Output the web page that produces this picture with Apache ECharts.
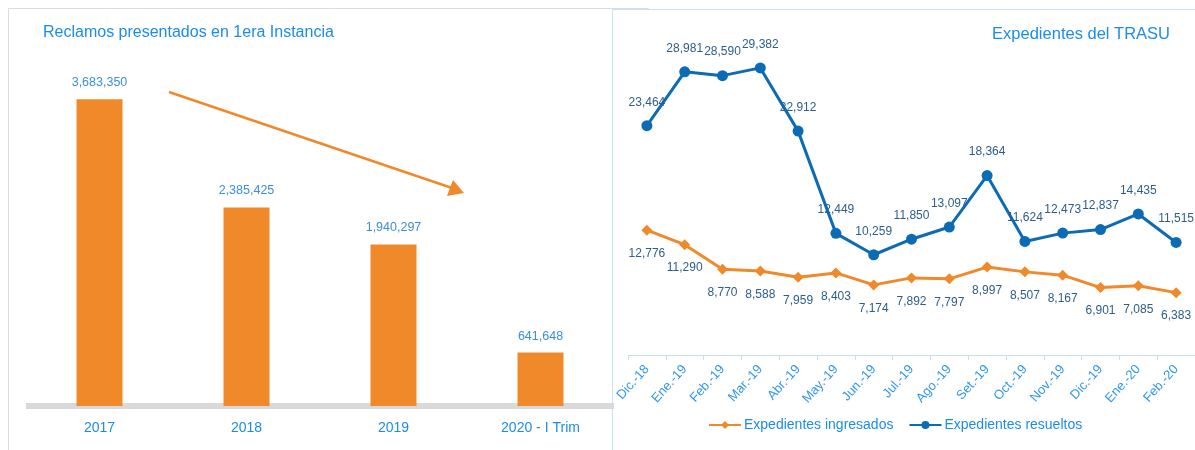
<!DOCTYPE html>
<html>
<head>
<meta charset="utf-8">
<script src="https://cdn.jsdelivr.net/npm/echarts@6/dist/echarts.min.js"></script>
<style>
  html, body { margin: 0; padding: 0; background: #fff; }
  #chart { width: 1195px; height: 450px; }
</style>
</head>
<body>
<div id="chart"></div>
<script>
// left panel: reclamos por año
const years = ['2017', '2018', '2019', '2020 - I Trim'];
const reclamos = [3683350, 2385425, 1940297, 641648];

// right panel: expedientes TRASU
const months = ['Dic.-18', 'Ene.-19', 'Feb.-19', 'Mar.-19', 'Abr.-19', 'May.-19', 'Jun.-19',
  'Jul.-19', 'Ago.-19', 'Set.-19', 'Oct.-19', 'Nov.-19', 'Dic.-19', 'Ene.-20', 'Feb.-20'];
const ingresados = [12776, 11290, 8770, 8588, 7959, 8403, 7174, 7892, 7797, 8997, 8507, 8167, 6901, 7085, 6383];
const resueltos = [23464, 28981, 28590, 29382, 22912, 12449, 10259, 11850, 13097, 18364, 11624, 12473, 12837, 14435, 11515];

const ORANGE = '#f0892a';
const BLUE = '#0b6bb5';
const TITLE_BLUE = '#1a8cf0';
const LABEL_BLUE = '#2d5d8c';
const FONT = '"Liberation Sans", Arial, sans-serif';

const fmt = v => v.toLocaleString('en-US');

const chart = echarts.init(document.getElementById('chart'), null, { renderer: 'canvas' });

chart.setOption({
  animation: false,
  textStyle: { fontFamily: FONT },
  title: [
    {
      text: 'Reclamos presentados en 1era Instancia',
      left: 43, top: 25, padding: 0,
      textStyle: { color: TITLE_BLUE, fontSize: 16, fontWeight: 'normal', fontFamily: FONT }
    },
    {
      text: 'Expedientes del TRASU',
      right: 25, top: 26, padding: 0,
      textStyle: { color: TITLE_BLUE, fontSize: 16.5, fontWeight: 'normal', fontFamily: FONT }
    }
  ],
  legend: {
    data: ['Expedientes ingresados', 'Expedientes resueltos'],
    left: 708, top: 418, padding: 0,
    itemWidth: 32, itemHeight: 10, itemGap: 15,
    textStyle: { color: TITLE_BLUE, fontSize: 14, fontFamily: FONT, padding: [0, 0, 0, -2] }
  },
  grid: [
    { left: 26, width: 588, top: 73, bottom: 44 },
    { left: 628, width: 568, top: 13, bottom: 95 }
  ],
  xAxis: [
    {
      type: 'category', gridIndex: 0, data: years, offset: 3,
      axisLine: { lineStyle: { color: '#d9d9d9', width: 6, cap: 'butt' } },
      axisTick: { show: false },
      axisLabel: { color: TITLE_BLUE, fontSize: 14, margin: 12 }
    },
    {
      type: 'category', gridIndex: 1, data: months,
      axisLine: { lineStyle: { color: '#c5def2', width: 1 } },
      axisTick: { show: true, length: 5, lineStyle: { color: '#c5def2' } },
      axisLabel: { color: '#2f96f0', fontSize: 13, rotate: 48, margin: 12, interval: 0 }
    }
  ],
  yAxis: [
    { type: 'value', gridIndex: 0, min: 0, max: 4000000, show: false },
    { type: 'value', gridIndex: 1, min: 0, max: 35000, show: false }
  ],
  series: [
    {
      type: 'bar', xAxisIndex: 0, yAxisIndex: 0,
      data: reclamos, barWidth: 46,
      itemStyle: { color: ORANGE },
      label: {
        show: true, position: 'top', distance: 10,
        color: '#3a8fdc', fontSize: 12.5,
        formatter: p => fmt(p.value)
      }
    },
    {
      name: 'Expedientes ingresados',
      type: 'line', xAxisIndex: 1, yAxisIndex: 1,
      data: ingresados,
      symbol: 'diamond', symbolSize: 11,
      lineStyle: { color: ORANGE, width: 3 },
      itemStyle: { color: ORANGE },
      label: {
        show: true, position: 'bottom', distance: 12,
        color: LABEL_BLUE, fontSize: 12,
        formatter: p => fmt(p.value)
      }
    },
    {
      name: 'Expedientes resueltos',
      type: 'line', xAxisIndex: 1, yAxisIndex: 1,
      data: resueltos,
      symbol: 'circle', symbolSize: 11,
      lineStyle: { color: BLUE, width: 3 },
      itemStyle: { color: BLUE },
      label: {
        show: true, position: 'top', distance: 12,
        color: LABEL_BLUE, fontSize: 12,
        formatter: p => fmt(p.value)
      }
    }
  ],
  graphic: [
    // panel frames
    { type: 'rect', shape: { x: 8.5, y: 8.5, width: 640, height: 460 }, style: { fill: null, stroke: '#dcdcdc', lineWidth: 1 }, z: -10 },
    { type: 'rect', shape: { x: 612.5, y: 9.5, width: 600, height: 460 }, style: { fill: '#fff', stroke: '#c7e1f5', lineWidth: 1 }, z: -5 },
    // trend arrow
    { type: 'line', shape: { x1: 169, y1: 92, x2: 452, y2: 188 }, style: { stroke: ORANGE, lineWidth: 2.5 } },
    { type: 'polygon', shape: { points: [[464, 193], [447, 196], [453, 180]] }, style: { fill: ORANGE } }
  ]
});
</script>
</body>
</html>
